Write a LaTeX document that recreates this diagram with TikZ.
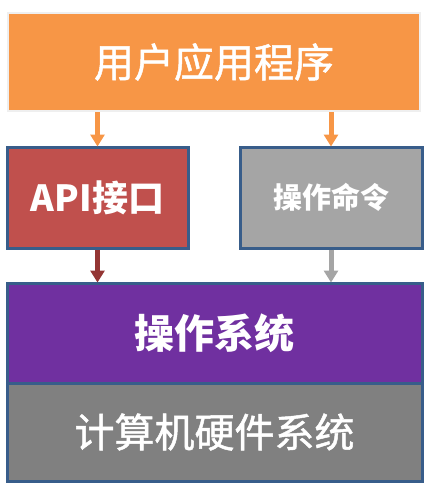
\documentclass[tikz,border=0pt]{standalone}
\usepackage{fontspec}
\newfontfamily\cjk{Noto Sans CJK SC}
\newfontfamily\cjkmed[FakeBold=1.2]{Noto Sans CJK SC}
\usetikzlibrary{arrows.meta}
\definecolor{appOrange}{HTML}{F79646}
\definecolor{apiRed}{HTML}{C0504D}
\definecolor{cmdGray}{HTML}{A5A5A5}
\definecolor{osPurple}{HTML}{7030A0}
\definecolor{hwGray}{HTML}{808080}
\definecolor{edgeBlue}{HTML}{385D8A}
\definecolor{darkRed}{HTML}{943634}
\definecolor{lightEdge}{HTML}{EFEFEF}
\tikzset{
  box/.style={draw=edgeBlue, line width=3pt, inner sep=0pt, text=white, font=\cjk},
  blockarrow/.style={line width=5pt, -{Triangle[width=14pt,length=12pt]}, shorten >=-1pt},
}
\begin{document}
\begin{tikzpicture}[x=1pt,y=-1pt]
\useasboundingbox (0,0) rectangle (432,491);
\node[box, draw=lightEdge, line width=2pt, fill=appOrange, minimum width=412pt, minimum height=98pt, font=\cjkmed\fontsize{40}{44}\selectfont] (app) at (214,62) {用户应用程序};
\node[box, fill=apiRed, minimum width=181pt, minimum height=101pt, font=\cjk\bfseries\fontsize{36}{40}\selectfont] (api) at (97.5,197.5) {API接口};
\node[box, fill=cmdGray, minimum width=182pt, minimum height=101pt, font=\cjk\bfseries\fontsize{29}{32}\selectfont] (cmd) at (331,197.5) {操作命令};
\node[box, fill=osPurple, minimum width=415pt, minimum height=100pt, font=\cjk\bfseries\fontsize{40}{44}\selectfont] (os) at (214.5,333) {操作系统};
\node[box, fill=hwGray, minimum width=415pt, minimum height=98pt, font=\cjkmed\fontsize{40}{44}\selectfont] (hw) at (214.5,432) {计算机硬件系统};
\draw[blockarrow, appOrange] (api.north |- app.south) -- (api.north);
\draw[blockarrow, appOrange] (cmd.north |- app.south) -- (cmd.north);
\draw[blockarrow, darkRed] (api.south) -- (api.south |- os.north);
\draw[blockarrow, cmdGray] (cmd.south) -- (cmd.south |- os.north);
\end{tikzpicture}
\end{document}
